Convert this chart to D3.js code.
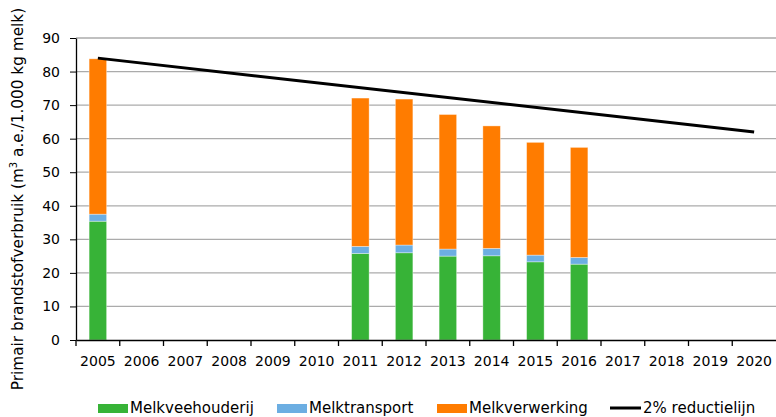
<!DOCTYPE html>
<html>
<head>
<meta charset="utf-8">
<script src="https://cdn.jsdelivr.net/npm/d3@7"></script>
<style>
  body { margin: 0; background: #fff; }
  text { font-family: "DejaVu Sans", Verdana, sans-serif; }
</style>
</head>
<body>
<div class="chart"></div>
<script>
// data
var years = ["2005", "2006", "2007", "2008", "2009", "2010", "2011", "2012",
  "2013", "2014", "2015", "2016", "2017", "2018", "2019", "2020"];
var barYears = ["2005", "2011", "2012", "2013", "2014", "2015", "2016"];
var melkveehouderij = [35.4, 25.8, 26.0, 25.0, 25.1, 23.3, 22.6];
var melktransport = [2.1, 2.1, 2.3, 2.1, 2.2, 2.0, 2.0];
var melkverwerking = [46.3, 44.2, 43.5, 40.1, 36.5, 33.6, 32.8];
var lineYears = ["2005", "2020"];
var lineValues = [84, 62];
var yTicks = [0, 10, 20, 30, 40, 50, 60, 70, 80, 90];

var seriesNames = ["Melkveehouderij", "Melktransport", "Melkverwerking"];
var colors = ["#37b337", "#6caee2", "#ff7c00"];

var svgWidth = 776;
var svgHeight = 417;
var margin = { top: 38, right: 0, bottom: 77, left: 76 };
var width = svgWidth - margin.left - margin.right;
var height = svgHeight - margin.top - margin.bottom;

var svg = d3.select(".chart")
  .append("svg")
  .attr("width", svgWidth)
  .attr("height", svgHeight);

var chartGroup = svg.append("g")
  .attr("transform", `translate(${margin.left}, ${margin.top})`);

var x = d3.scaleBand()
  .domain(years)
  .range([0, width])
  .paddingInner(0.6)
  .paddingOuter(0.3);

var y = d3.scaleLinear()
  .domain([0, 90])
  .range([height, 0]);

// gridlines
chartGroup.append("g")
  .selectAll("line")
  .data(yTicks.slice(1))
  .enter()
  .append("line")
  .attr("x1", 0)
  .attr("x2", width)
  .attr("y1", d => y(d))
  .attr("y2", d => y(d))
  .attr("stroke", "#ababab")
  .attr("stroke-width", 1.3);

// stacked bars
var table = barYears.map(function (yr, i) {
  return {
    year: yr,
    Melkveehouderij: melkveehouderij[i],
    Melktransport: melktransport[i],
    Melkverwerking: melkverwerking[i]
  };
});
var stacked = d3.stack().keys(seriesNames)(table);

chartGroup.selectAll(".series")
  .data(stacked)
  .enter()
  .append("g")
  .attr("fill", (d, i) => colors[i])
  .selectAll("rect")
  .data(d => d)
  .enter()
  .append("rect")
  .attr("x", d => x(d.data.year))
  .attr("width", x.bandwidth())
  .attr("y", d => y(d[1]))
  .attr("height", d => y(d[0]) - y(d[1]))
  .attr("stroke", "rgba(255,255,255,0.45)")
  .attr("stroke-width", 0.8);

// axes
var leftAxis = d3.axisLeft(y).tickValues(yTicks).tickSize(6).tickSizeOuter(0);
var bottomAxis = d3.axisBottom(x).tickSize(0).tickSizeOuter(0);

var yAxis = chartGroup.append("g").call(leftAxis);
yAxis.select(".domain").attr("stroke", "#000").attr("stroke-width", 1.3);
yAxis.selectAll("text")
  .attr("x", -16)
  .style("font-size", "14px")
  .attr("fill", "#000");

var xAxis = chartGroup.append("g")
  .attr("transform", `translate(0, ${height})`)
  .call(bottomAxis);
xAxis.select(".domain").attr("stroke", "#000").attr("stroke-width", 1.3);
xAxis.selectAll("text")
  .attr("y", 16)
  .style("font-size", "14px")
  .attr("fill", "#000");

// tick marks between categories
var tickShift = x.step() * (x.paddingOuter() - x.paddingInner() / 2);
chartGroup.append("g")
  .selectAll("line")
  .data(years)
  .enter()
  .append("line")
  .attr("x1", d => x(d) - x.step() * x.paddingInner() / 2 - tickShift)
  .attr("x2", d => x(d) - x.step() * x.paddingInner() / 2 - tickShift)
  .attr("y1", height)
  .attr("y2", height + 6)
  .attr("stroke", "#000")
  .attr("stroke-width", 1.3);

// 2% reduction line
var line = d3.line()
  .x(d => x(d.year) + x.bandwidth() / 2)
  .y(d => y(d.value));

chartGroup.append("path")
  .datum(lineYears.map((yr, i) => ({ year: yr, value: lineValues[i] })))
  .attr("d", line)
  .attr("fill", "none")
  .attr("stroke", "#000")
  .attr("stroke-width", 3);

// y label
var yLabel = svg.append("text")
  .attr("transform", "translate(23, 199) rotate(-90)")
  .attr("text-anchor", "middle")
  .style("font-size", "15.3px")
  .attr("fill", "#000");
yLabel.append("tspan").text("Primair brandstofverbruik (m");
yLabel.append("tspan").attr("dy", -6).style("font-size", "10px").text("3");
yLabel.append("tspan").attr("dy", 6).text(" a.e./1.000 kg melk)");

// legend
var legend = svg.append("g").attr("transform", "translate(0, 408)");
var legendX = [98, 277, 437];
seriesNames.forEach(function (name, i) {
  legend.append("rect")
    .attr("x", legendX[i])
    .attr("y", -4)
    .attr("width", 30)
    .attr("height", 9)
    .attr("fill", colors[i]);
  legend.append("text")
    .attr("x", legendX[i] + 32)
    .attr("y", 5)
    .style("font-size", "15px")
    .text(name);
});
legend.append("line")
  .attr("x1", 610)
  .attr("x2", 641)
  .attr("y1", 0)
  .attr("y2", 0)
  .attr("stroke", "#000")
  .attr("stroke-width", 3);
legend.append("text")
  .attr("x", 643)
  .attr("y", 5)
  .style("font-size", "15px")
  .text("2% reductielijn");
</script>
</body>
</html>
